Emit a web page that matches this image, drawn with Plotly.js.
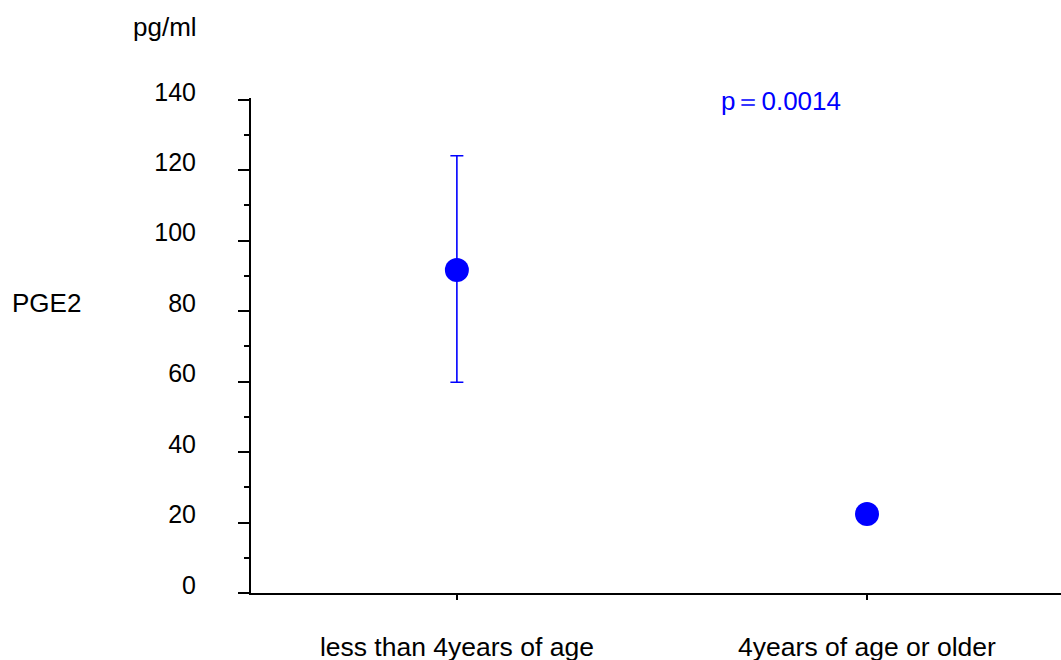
<!DOCTYPE html>
<html>
<head>
<meta charset="utf-8">
<script src="https://cdn.plot.ly/plotly-3.0.1.min.js"></script>
<style>html,body{margin:0;padding:0;background:#fff;}#chart{width:1061px;height:660px;}</style>
</head>
<body>
<div id="chart"></div>
<script>
const categories = ['less than 4years of age', '4years of age or older'];
const meanPGE2 = [91.7, 22.4];
const errPlus = [32.4, 0];
const errMinus = [31.9, 0];
const yTickVals = [0, 20, 40, 60, 80, 100, 120, 140];
const yTickText = ['0', '20', '40', '60', '80', '100', '120', '140'];
const unitLabel = 'pg/ml';
const measureLabel = 'PGE2';
const pLabel = 'p＝0.0014';

const textFont = {family: 'Liberation Sans, Arial, sans-serif', size: 26, color: '#000'};
const catFont = {family: 'Liberation Sans, Arial, sans-serif', size: 26.5, color: '#000'};
const tickFont = {family: 'Liberation Sans, Arial, sans-serif', size: 25, color: '#000'};

const trace = {
  type: 'scatter',
  mode: 'markers',
  x: categories,
  y: meanPGE2,
  marker: {color: '#0000FF', size: 24},
  error_y: {type: 'data', symmetric: false, array: errPlus, arrayminus: errMinus,
            color: '#0000FF', thickness: 1.6, width: 6.5},
  hoverinfo: 'x+y',
  showlegend: false
};

const layout = {
  width: 1061, height: 660,
  margin: {l: 251, r: 0, t: 98, b: 67},
  paper_bgcolor: '#fff', plot_bgcolor: '#fff',
  xaxis: {
    type: 'category',
    range: [-0.502, 1.473],
    showline: true, linecolor: '#000', linewidth: 2,
    ticks: 'outside', ticklen: 5, tickwidth: 2, tickcolor: '#000',
    showgrid: false, zeroline: false,
    tickfont: catFont,
    ticklabelstandoff: 24
  },
  yaxis: {
    range: [0, 140.5],
    showline: true, linecolor: '#000', linewidth: 2,
    ticks: 'outside', ticklen: 11, tickwidth: 2, tickcolor: '#000',
    tickvals: yTickVals, ticktext: yTickText,
    minor: {ticks: 'outside', ticklen: 5, tickwidth: 2, tickcolor: '#000', dtick: 10, tick0: 0, showgrid: false},
    showgrid: false, zeroline: false,
    tickfont: tickFont,
    ticklabelstandoff: 37,
    ticklabelshift: -8
  },
  annotations: [
    {text: unitLabel, xref: 'paper', yref: 'paper', x: (165 - 251) / 810, y: (660 - 67 - 27) / 495,
     xanchor: 'center', yanchor: 'middle', showarrow: false, font: textFont},
    {text: measureLabel, xref: 'paper', yref: 'paper', x: (46 - 251) / 810, y: (593 - 303) / 495,
     xanchor: 'center', yanchor: 'middle', showarrow: false, font: textFont},
    {text: pLabel, xref: 'paper', yref: 'paper', x: (719 - 251) / 810, y: (593 - 101) / 495,
     xanchor: 'left', yanchor: 'middle', showarrow: false,
     font: {family: 'Liberation Sans, Arial, sans-serif', size: 26, color: '#0000FF'}}
  ]
};

Plotly.newPlot('chart', [trace], layout, {displayModeBar: false, staticPlot: true});
</script>
</body>
</html>
